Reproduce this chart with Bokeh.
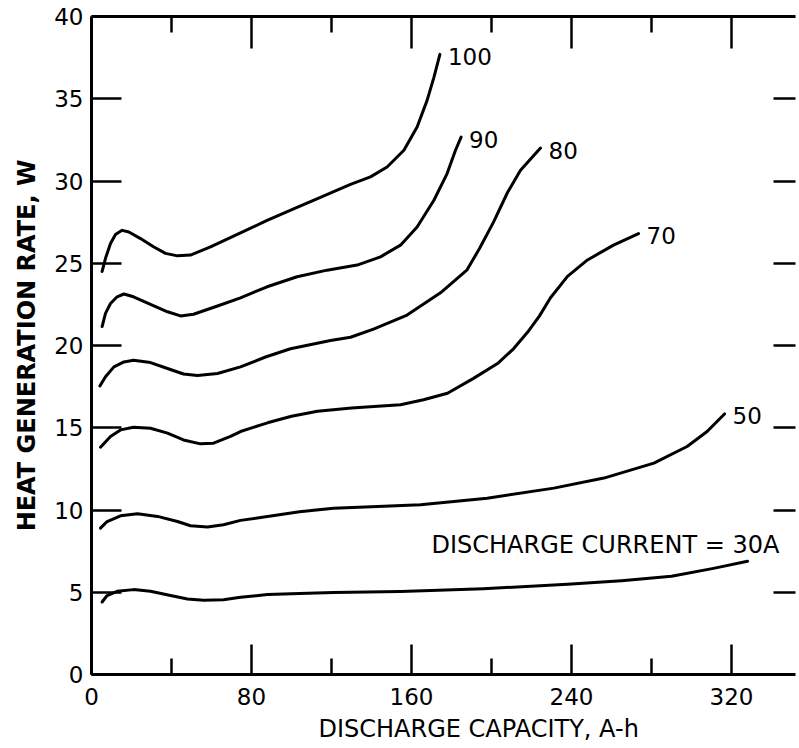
from bokeh.plotting import figure
from bokeh.models import FixedTicker, LinearAxis, Label, Range1d, Title, CustomLabelingPolicy
from bokeh.embed import file_html
from bokeh.resources import INLINE

# ---- data (discharge capacity A-h, heat generation rate W) ----
series_names = ["100", "90", "80", "70", "50", "30"]

x_100 = [5.3, 7, 9.5, 12, 15.3, 18.7, 24.5, 31, 37, 43, 49.5, 59.5, 74.5, 87.8, 102.8, 116.2,
         129.5, 139.5, 147.8, 156.2, 162.8, 167.8, 171.2, 174.2]
y_100 = [24.5, 25.3, 26.2, 26.75, 27.0, 26.9, 26.5, 26.0, 25.6, 25.45, 25.5, 26.0, 26.85, 27.6, 28.4, 29.1,
         29.8, 30.25, 30.85, 31.87, 33.28, 34.9, 36.3, 37.7]

x_90 = [5.3, 7, 9.5, 12.8, 16.2, 21, 29.5, 38, 44.5, 51, 63, 74.5, 87.8, 102.8, 117.8, 132.8,
        144.5, 154.5, 162.8, 171.2, 177.8, 182, 184.8]
y_90 = [21.15, 21.95, 22.55, 22.96, 23.13, 22.96, 22.5, 22.05, 21.8, 21.9, 22.4, 22.9, 23.57, 24.18, 24.58, 24.89,
        25.39, 26.1, 27.2, 28.83, 30.45, 31.87, 32.67]

x_80 = [4.2, 7, 11.2, 16.2, 21, 29.5, 38, 46, 53, 63, 74.5, 87, 99.5, 119.5, 129.5, 141, 157.8,
        174.5, 187.8, 194, 201, 208, 214.5, 224.5]
y_80 = [17.54, 18.1, 18.7, 19.0, 19.1, 18.96, 18.6, 18.27, 18.17, 18.3, 18.7, 19.3, 19.8, 20.3, 20.5, 21.0, 21.85,
        23.2, 24.6, 25.9, 27.5, 29.3, 30.65, 32.0]

x_70 = [4.5, 9.5, 14.5, 21, 29.5, 38, 46, 54.5, 61, 69.5, 74.5, 88, 100, 113, 130, 154.5, 166,
        178, 191, 203, 211, 218, 224, 229.5, 238, 248, 261, 273.5]
y_70 = [13.82, 14.47, 14.87, 15.03, 14.97, 14.67, 14.26, 14.02, 14.06, 14.47, 14.77, 15.3, 15.7, 16.0, 16.2, 16.4, 16.7,
        17.1, 18.0, 18.9, 19.8, 20.8, 21.8, 22.9, 24.2, 25.2, 26.1, 26.8]

x_50 = [4.5, 7.8, 14.5, 23, 33, 43, 49.5, 58, 66, 74.5, 88, 104, 121, 140, 164.5, 197.8,
        231.2, 256.2, 281.2, 297.8, 307.8, 316.5]
y_50 = [8.9, 9.3, 9.65, 9.77, 9.61, 9.3, 9.04, 8.96, 9.1, 9.37, 9.6, 9.9, 10.1, 10.2, 10.32, 10.72,
        11.33, 11.94, 12.85, 13.86, 14.77, 15.84]

x_30 = [5.3, 7.8, 12.8, 21, 29.5, 39.5, 48, 56, 66, 74.5, 88, 104, 121, 154.5, 196, 238,
        265, 290, 311, 328]
y_30 = [4.41, 4.8, 5.06, 5.16, 5.06, 4.8, 4.59, 4.51, 4.55, 4.69, 4.86, 4.93, 4.98, 5.04, 5.22, 5.48,
        5.7, 5.97, 6.45, 6.88]

x_ticks = [0, 80, 160, 240, 320]
x_minor_ticks = [40, 120, 200, 280]
y_ticks = [0, 5, 10, 15, 20, 25, 30, 35, 40]

x_title = "DISCHARGE CAPACITY, A-h"
y_title = "HEAT GENERATION RATE, W"
note_text = "DISCHARGE CURRENT = 30A"

FONT = "DejaVu Sans"

p = figure(width=799, height=748, x_range=Range1d(0, 352), y_range=Range1d(0, 40),
           output_backend="svg", toolbar_location=None,
           min_border_left=91, min_border_right=0, min_border_top=16, min_border_bottom=73)
p.outline_line_color = None
p.grid.visible = False
p.background_fill_color = "white"
p.border_fill_color = "white"


def style_axis(ax, ticker, major_in, minor_in, show_labels, line=True):
    ax.ticker = ticker
    ax.major_tick_in = major_in
    ax.major_tick_out = 0
    ax.minor_tick_in = minor_in
    ax.minor_tick_out = 0
    ax.major_tick_line_width = 2.5
    ax.minor_tick_line_width = 2.5
    ax.major_tick_line_color = "black"
    ax.minor_tick_line_color = "black"
    ax.axis_line_width = 3
    ax.axis_line_color = "black" if line else None
    ax.major_label_text_font = FONT
    ax.major_label_text_color = "black"
    if show_labels:
        ax.major_label_text_font_size = "23px"
    else:
        ax.major_label_text_font_size = "1px"
        ax.major_label_standoff = 0
        ax.major_label_policy = CustomLabelingPolicy(code="")


xt = FixedTicker(ticks=x_ticks, minor_ticks=x_minor_ticks)
yt = FixedTicker(ticks=y_ticks, minor_ticks=[])

style_axis(p.xaxis[0], xt, 30, 16, True)
p.xaxis[0].major_label_standoff = 13
style_axis(p.yaxis[0], yt, 30, 0, True)
p.yaxis[0].major_label_standoff = 8
p.yaxis[0].axis_label = y_title
p.yaxis[0].axis_label_text_font = FONT
p.yaxis[0].axis_label_text_font_size = "24px"
p.yaxis[0].axis_label_text_font_style = "bold"
p.yaxis[0].axis_label_text_color = "black"
p.yaxis[0].axis_label_standoff = 10

top = LinearAxis()
style_axis(top, FixedTicker(ticks=x_ticks, minor_ticks=x_minor_ticks), 32, 16, False)
p.add_layout(top, "above")

right = LinearAxis()
style_axis(right, FixedTicker(ticks=y_ticks[1:-1], minor_ticks=[]), 22, 0, False, line=False)
p.add_layout(right, "right")

curves = [(x_100, y_100), (x_90, y_90), (x_80, y_80), (x_70, y_70), (x_50, y_50), (x_30, y_30)]
for name, (xs, ys) in zip(series_names, curves):
    p.line(xs, ys, line_color="black", line_width=3, line_join="round", line_cap="round")
    if name != "30":
        p.add_layout(Label(x=xs[-1], y=ys[-1], x_offset=8, y_offset=-2, text=name,
                           text_font=FONT, text_font_size="23px", text_color="black",
                           text_align="left", text_baseline="middle"))

p.add_layout(Label(x=170, y=7.9, text=note_text, text_font=FONT, text_font_size="24px",
                   text_color="black", text_align="left", text_baseline="middle"))

p.add_layout(Title(text=x_title, align="left", offset=227, standoff=11,
                   text_font=FONT, text_font_size="24px", text_font_style="normal",
                   text_color="black"), "below")

open("out.html", "w").write(file_html(p, INLINE))
